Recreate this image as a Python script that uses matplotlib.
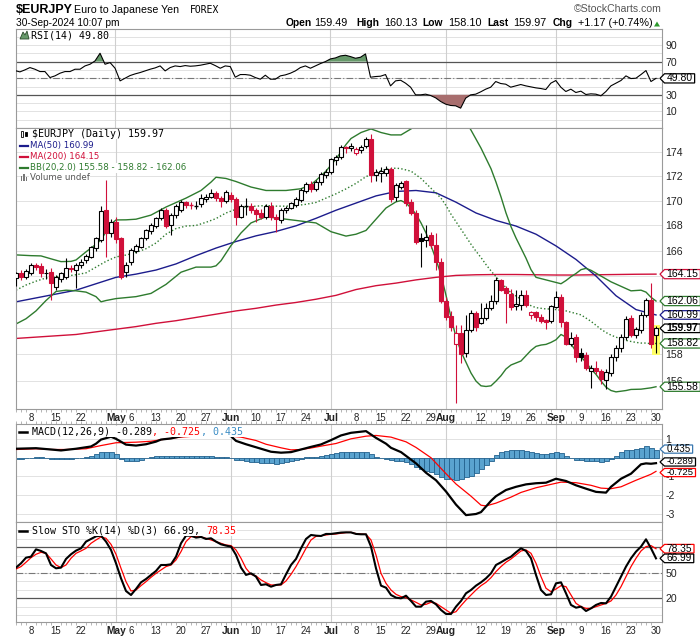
import numpy as np
import pandas as pd
import matplotlib
matplotlib.use("Agg")
import matplotlib.pyplot as plt
from matplotlib.patches import Polygon, Rectangle
from matplotlib.lines import Line2D
from matplotlib.transforms import IdentityTransform
from matplotlib.ticker import NullLocator, NullFormatter

plt.rcParams["font.family"] = ["Liberation Sans", "DejaVu Sans"]

# ---------------- data ----------------
dates = pd.bdate_range("2024-04-03", "2024-09-30")
x = np.arange(len(dates)) - 3          # trading days counted from 2024-04-08

opens = [163.85, 164.26, 163.95, 164.20, 164.87, 164.80, 164.20, 164.34, 163.12, 163.74,
         163.95, 164.66, 164.47, 164.87, 165.26, 165.53, 166.19, 166.85, 169.27, 167.39,
         168.30, 166.99, 164.34, 165.13, 166.00, 166.32, 166.99, 167.52, 167.92, 168.57,
         169.22, 168.05, 168.83, 169.27, 169.87, 169.61, 169.60, 169.69, 170.14, 170.33,
         170.60, 170.22, 170.00, 170.49, 170.14, 168.70, 169.53, 169.53, 169.22, 169.00,
         168.70, 169.53, 168.70, 168.44, 169.22, 169.43, 169.61, 170.05, 170.77, 171.32,
         170.96, 171.50, 172.11, 172.33, 173.30, 173.53, 174.42, 174.28, 173.86, 174.14,
         174.47, 175.03, 172.05, 172.25, 172.25, 172.60, 170.27, 171.10, 171.57, 169.92,
         168.99, 167.00, 166.80, 167.25, 166.45, 165.13, 162.05, 160.94, 158.76, 159.59,
         158.08, 159.85, 161.11, 160.41, 160.73, 161.49, 162.10, 163.69, 163.09, 162.60,
         161.67, 161.75, 162.52, 160.99, 161.24, 160.86, 160.61, 160.53, 161.62, 162.39,
         160.48, 158.78, 159.29, 158.10, 157.95, 156.73, 156.98, 156.73, 156.07, 156.60,
         157.83, 158.50, 159.34, 160.73, 159.47, 159.85, 161.00, 162.13, 159.49]
highs = [164.35, 164.45, 164.55, 165.05, 165.00, 165.00, 164.55, 164.60, 164.10, 164.35,
         165.40, 164.90, 165.00, 165.30, 165.75, 166.40, 167.10, 169.60, 171.70, 168.50,
         168.70, 167.10, 165.10, 166.20, 166.50, 167.10, 167.70, 168.20, 168.70, 169.40,
         169.40, 169.00, 169.70, 170.05, 170.00, 169.90, 169.95, 170.50, 170.50, 170.90,
         170.75, 170.40, 170.85, 170.70, 170.30, 169.70, 170.20, 169.80, 169.40, 169.30,
         169.75, 169.90, 168.90, 169.40, 169.60, 169.90, 170.30, 171.00, 171.50, 171.60,
         171.70, 172.30, 172.60, 173.50, 173.70, 174.60, 174.50, 174.70, 174.40, 174.60,
         175.20, 175.45, 172.60, 172.70, 172.80, 172.75, 171.40, 171.60, 171.70, 170.10,
         169.20, 167.40, 168.00, 167.50, 167.40, 165.40, 162.40, 161.30, 160.23, 160.20,
         161.00, 161.40, 161.30, 161.90, 161.90, 162.50, 163.90, 163.80, 163.20, 163.00,
         162.90, 162.90, 162.90, 161.30, 161.30, 161.10, 160.70, 161.75, 162.80, 162.60,
         160.50, 159.70, 159.50, 158.50, 158.20, 157.20, 157.50, 156.90, 156.90, 158.00,
         158.70, 159.50, 160.90, 161.00, 160.10, 161.20, 162.30, 163.48, 160.13]
lows = [163.20, 163.70, 163.75, 164.08, 164.50, 163.90, 163.75, 162.13, 162.90, 163.50,
        163.80, 164.30, 163.04, 164.60, 165.00, 165.40, 166.00, 166.70, 165.50, 167.10,
        166.60, 163.80, 163.90, 164.90, 165.80, 166.20, 166.80, 167.30, 167.80, 168.40,
        167.80, 167.20, 168.60, 169.10, 169.40, 169.30, 169.30, 169.50, 169.90, 170.20,
        170.00, 169.50, 169.80, 169.90, 168.00, 168.60, 168.80, 169.00, 168.30, 168.50,
        168.50, 168.40, 167.50, 168.20, 169.00, 169.30, 169.50, 169.90, 170.60, 170.70,
        170.80, 171.30, 171.80, 172.20, 172.90, 173.40, 173.90, 174.10, 173.70, 173.90,
        174.30, 171.50, 171.60, 171.50, 172.00, 169.90, 170.00, 170.90, 169.60, 168.80,
        166.50, 164.74, 166.30, 166.20, 164.50, 161.90, 160.60, 159.80, 154.37, 157.33,
        157.80, 159.70, 159.80, 160.30, 160.60, 161.40, 161.87, 162.80, 160.35, 161.40,
        161.40, 161.40, 161.60, 160.70, 160.50, 160.40, 159.90, 160.40, 161.50, 160.10,
        158.70, 158.60, 157.45, 157.50, 156.80, 155.50, 156.50, 155.80, 155.40, 156.40,
        157.50, 158.20, 159.10, 159.30, 159.20, 159.60, 160.80, 158.50, 158.10]
closes = [164.20, 163.90, 164.42, 164.87, 164.74, 164.20, 164.26, 163.48, 163.95, 164.21,
          164.60, 164.55, 164.87, 165.13, 165.58, 166.26, 166.99, 169.17, 167.39, 168.24,
          166.90, 163.95, 164.87, 166.05, 166.37, 166.99, 167.60, 168.05, 168.57, 169.22,
          167.92, 168.83, 169.53, 169.87, 169.61, 169.60, 169.62, 170.22, 170.33, 170.60,
          170.22, 169.95, 170.68, 170.14, 168.70, 169.53, 169.55, 169.27, 168.90, 168.70,
          169.53, 168.65, 168.55, 169.27, 169.43, 169.79, 170.14, 170.82, 171.32, 170.96,
          171.50, 172.19, 172.33, 173.36, 173.58, 174.42, 174.28, 174.47, 174.19, 174.42,
          175.03, 172.05, 172.33, 172.45, 172.60, 170.14, 171.23, 171.45, 169.79, 168.99,
          166.72, 166.75, 167.07, 166.45, 165.13, 162.05, 160.86, 160.05, 159.59, 158.03,
          159.85, 161.11, 160.10, 160.73, 161.49, 162.08, 163.69, 162.91, 162.65, 161.62,
          161.87, 162.52, 161.75, 161.24, 160.81, 160.56, 160.48, 161.67, 162.34, 160.48,
          158.78, 159.22, 157.78, 157.80, 156.98, 156.98, 156.73, 156.12, 156.68, 157.83,
          158.50, 159.34, 160.66, 159.47, 159.90, 161.00, 162.13, 158.80, 159.97]

ma50_at = [-3, 1, 5, 9, 13, 17, 21, 25, 29, 33, 37, 41, 45, 49, 53, 57, 61, 65, 69, 73, 77,
           81, 85, 89, 93, 97, 101, 105, 109, 113, 117, 121, 125]
ma50_val = [162.0, 162.3, 162.6, 162.9, 163.4, 163.9, 164.15, 164.47, 164.95, 165.6, 166.2,
            166.72, 167.17, 167.52, 167.97, 168.57, 169.22, 169.8, 170.38, 170.74, 170.82,
            170.63, 169.87, 169.0, 168.4, 167.95, 167.3, 166.37, 165.3, 164.0, 162.47, 161.4, 160.99]
ma200_at = ma50_at
ma200_val = [159.2, 159.3, 159.4, 159.5, 159.7, 159.9, 160.1, 160.35, 160.55, 160.8, 161.05,
             161.3, 161.5, 161.75, 161.95, 162.2, 162.5, 162.95, 163.25, 163.45, 163.7,
             163.9, 164.05, 164.1, 164.12, 164.12, 164.1, 164.08, 164.08, 164.1, 164.12, 164.14, 164.15]

bbm_at = list(range(-3, 74, 2)) + list(range(74, 126))
bbm_val = [162.9, 163.3, 163.6, 163.85, 163.95, 164.0, 164.1, 164.25, 164.7, 165.15,
           165.5, 165.65, 165.85, 166.15, 166.6, 167.3, 167.75, 167.95, 168.0, 168.25,
           168.55, 169.0, 169.3, 169.5, 169.55, 169.6, 169.55, 169.55, 169.6, 169.7,
           169.85, 170.2, 170.55, 170.95, 171.4, 171.95, 172.3, 172.55, 172.65,
           172.6, 172.5, 172.4, 172.1, 171.8, 171.4, 171.0, 170.6, 170.2, 169.6,
           168.9, 168.3, 167.7, 167.1, 166.5, 165.95, 165.45, 164.9, 164.4, 163.95,
           163.5, 163.1, 162.7, 162.45, 162.2, 161.9, 161.7, 161.55, 161.5, 161.45,
           161.45, 161.4, 161.35, 161.3, 161.2, 161.1, 161.0, 160.75, 160.5, 160.2,
           159.9, 159.65, 159.45, 159.3, 159.15, 159.05, 158.97, 158.9, 158.85, 158.85,
           158.8, 158.82]
bbu_at = [-3, 0, 2, 4, 6, 8, 9, 11, 13, 14, 15, 16, 17, 19, 21, 24, 27, 31, 34, 36, 37, 39,
          41, 44, 47, 51, 54, 56, 57, 59, 61, 63, 64, 66, 68, 70, 72, 74, 76, 78, 80, 82, 84,
          86, 88, 90, 92, 93, 94, 95, 96, 97, 98, 99, 100, 101, 103, 105, 106, 107, 108, 109,
          110, 111, 112, 114, 116, 118, 120, 122, 123, 124, 125]
bbu_val = [165.66, 165.6, 165.58, 165.35, 165.13, 165.15, 165.26, 165.9, 166.5, 166.85,
           167.5, 168.1, 168.44, 168.45, 168.5, 168.83, 169.48, 170.2, 170.82, 171.5,
           171.9, 171.8, 171.55, 171.1, 170.82, 170.82, 170.96, 171.3, 171.64, 172.4,
           173.4, 174.6, 175.1, 175.6, 175.9, 175.6, 175.4, 175.4, 175.9, 176.6,
           177.3, 177.8, 178.0, 177.2, 175.8, 174.3, 172.6, 171.5, 170.3, 169.0,
           167.9, 167.0, 166.2, 165.4, 164.5, 163.9, 163.7, 163.5, 163.4, 163.65,
           163.95, 164.2, 164.5, 164.6, 164.45, 164.0, 163.55, 163.2, 162.85, 162.9,
           162.75, 162.35, 162.06]
bbl_at = [-3, -1, 1, 3, 5, 7, 9, 11, 13, 14, 15, 17, 21, 24, 27, 30, 33, 36, 37, 38, 40, 42,
          44, 47, 50, 54, 57, 60, 63, 65, 67, 69, 71, 73, 74, 75, 76, 77, 78, 79, 80, 81, 82,
          83, 84, 85, 86, 87, 88, 89, 90, 91, 92, 93, 94, 95, 96, 97, 98, 99, 100, 101, 102,
          103, 104, 105, 106, 107, 108, 109, 110, 111, 112, 113, 114, 115, 116, 117, 118,
          119, 120, 122, 124, 125]
bbl_val = [160.3, 160.7, 161.3, 162.1, 162.8, 162.9, 162.85, 162.75, 162.4, 162.0,
           162.1, 162.25, 162.4, 162.65, 163.35, 164.3, 164.7, 164.7, 164.8, 165.2,
           166.4, 167.4, 168.2, 168.7, 168.55, 168.35, 168.2, 167.5, 167.15, 167.3,
           167.6, 168.5, 169.4, 169.9, 170.0, 169.8, 169.4, 168.9, 168.2, 167.4,
           166.4, 165.3, 164.1, 162.5, 160.8, 159.3, 158.2, 157.4, 156.6, 156.0,
           155.65, 155.6, 155.65, 156.0, 156.4, 156.9, 157.2, 157.35, 157.5, 157.9,
           158.3, 158.6, 158.7, 158.75, 158.9, 159.1, 159.5, 159.3, 158.8, 158.2,
           157.8, 157.4, 156.9, 156.5, 156.0, 155.55, 155.3, 155.2, 155.25, 155.3,
           155.38, 155.4, 155.5, 155.58]

rsi = [59.2, 57.6, 60.0, 62.8, 60.8, 58.0, 58.0, 50.8, 52.8, 56.0,
       58.0, 58.0, 60.8, 60.8, 64.8, 66.8, 70.8, 80.0, 66.8, 68.8,
       62.0, 46.8, 50.0, 53.2, 55.2, 56.8, 58.8, 60.8, 62.4, 64.8,
       58.8, 62.8, 64.8, 64.0, 65.2, 64.4, 64.8, 65.6, 66.8, 68.0,
       65.2, 62.0, 64.8, 64.0, 51.2, 54.4, 54.4, 53.6, 50.8, 48.8,
       53.6, 48.8, 48.8, 52.8, 54.0, 56.0, 58.8, 62.8, 64.8, 62.0,
       64.8, 67.6, 70.0, 73.2, 74.4, 76.8, 77.6, 76.0, 74.0, 75.2,
       79.2, 51.2, 52.0, 52.4, 54.4, 40.8, 46.8, 47.6, 44.0, 39.2,
       30.0, 30.0, 30.8, 29.2, 26.4, 22.0, 18.8, 17.2, 16.8, 14.0,
       26.0, 30.0, 30.8, 33.6, 36.8, 39.2, 46.0, 43.6, 42.8, 39.2,
       40.8, 42.4, 40.8, 39.6, 38.4, 37.6, 36.4, 44.0, 47.2, 39.2,
       34.0, 36.8, 32.8, 34.4, 30.4, 31.2, 30.8, 28.8, 34.0, 40.8,
       44.0, 47.2, 52.8, 49.6, 50.0, 54.4, 59.2, 46.0, 49.8]

macd_at = [-3, 1, 4, 6, 9, 12, 13, 14, 16, 17, 19, 21, 23, 25, 26, 27, 28, 30, 33, 36, 38,
           40, 41, 43, 46, 48, 50, 52, 54, 56, 58, 60, 62, 64, 67, 69, 71, 72, 74, 75, 77,
           79, 81, 83, 85, 87, 89, 90, 92, 93, 95, 97, 99, 101, 103, 105, 107, 109, 111,
           113, 115, 116, 118, 120, 122, 123, 124, 125]
macd_val = [0.48, 0.51, 0.44, 0.39, 0.48, 0.6, 0.75, 0.97, 1.12, 1.01, 0.7, 0.65, 0.72,
            0.86, 0.97, 1.0, 1.03, 1.15, 1.25, 1.28, 1.25, 1.15, 0.9, 0.72, 0.48, 0.32,
            0.27, 0.3, 0.44, 0.58, 0.71, 0.94, 1.19, 1.33, 1.42, 1.06, 0.75, 0.53, 0.3,
            0.1, -0.3, -0.8, -1.2, -1.8, -2.5, -3.06, -3.0, -2.9, -2.3, -2.05, -1.72,
            -1.55, -1.42, -1.36, -1.33, -1.12, -1.24, -1.47, -1.65, -1.82, -1.86, -1.55,
            -1.12, -0.85, -0.35, -0.3, -0.32, -0.289]
signal_at = [-3, 1, 4, 7, 11, 14, 17, 21, 24, 27, 30, 34, 37, 40, 42, 45, 47, 50, 52, 54,
             56, 58, 61, 64, 67, 69, 72, 75, 77, 80, 83, 85, 88, 90, 91, 93, 96, 98, 101,
             104, 106, 109, 112, 114, 116, 118, 121, 124, 125]
signal_val = [0.44, 0.48, 0.44, 0.44, 0.48, 0.65, 0.8, 0.83, 0.88, 1.0, 1.1, 1.18, 1.2,
              1.15, 1.1, 0.92, 0.72, 0.53, 0.42, 0.44, 0.52, 0.62, 0.76, 1.01, 1.15, 1.19,
              1.1, 0.85, 0.55, 0.0, -0.85, -1.4, -2.05, -2.53, -2.57, -2.42, -2.1, -1.85,
              -1.6, -1.42, -1.3, -1.33, -1.47, -1.62, -1.65, -1.55, -1.2, -0.88, -0.725]
hist = [-0.05, -0.05, -0.04, -0.03, 0.02, 0.02, 0.0, -0.06, -0.08, -0.08,
        -0.07, -0.06, -0.04, 0.0, 0.04, 0.1, 0.18, 0.28, 0.32, 0.32,
        0.22, -0.08, -0.16, -0.17, -0.15, -0.1, -0.03, 0.03, 0.07, 0.1,
        0.09, 0.08, 0.1, 0.11, 0.1, 0.08, 0.07, 0.08, 0.08, 0.08,
        0.06, 0.03, 0.02, -0.02, -0.1, -0.14, -0.18, -0.21, -0.25, -0.27,
        -0.27, -0.3, -0.32, -0.3, -0.25, -0.19, -0.13, -0.05, 0.02, 0.04,
        0.06, 0.1, 0.14, 0.19, 0.24, 0.28, 0.29, 0.3, 0.32, 0.33,
        0.3, 0.18, 0.05, -0.02, -0.05, -0.12, -0.15, -0.18, -0.25, -0.35,
        -0.5, -0.6, -0.7, -0.78, -0.88, -1.02, -1.12, -1.16, -1.18, -1.16,
        -1.05, -0.95, -0.82, -0.62, -0.4, -0.15, 0.12, 0.28, 0.36, 0.4,
        0.4, 0.4, 0.38, 0.32, 0.26, 0.2, 0.22, 0.27, 0.31, 0.24,
        0.1, 0.0, -0.1, -0.14, -0.18, -0.2, -0.2, -0.21, -0.15, -0.05,
        0.1, 0.28, 0.4, 0.42, 0.45, 0.52, 0.6, 0.5, 0.435]

sto_k = [56.1, 61.2, 67.8, 69.0, 77.6, 75.7, 72.9, 59.2, 55.3, 56.1,
         66.3, 71.8, 76.1, 78.8, 86.7, 89.8, 92.9, 93.7, 86.7, 76.9,
         61.2, 43.5, 28.6, 23.9, 31.0, 38.8, 42.7, 47.5, 52.2, 59.2,
         59.2, 60.0, 69.0, 84.7, 93.7, 93.7, 91.4, 92.2, 89.8, 90.6,
         86.7, 83.5, 82.0, 80.8, 71.0, 56.1, 47.5, 49.4, 45.5, 35.7,
         36.5, 33.7, 35.7, 36.5, 48.2, 59.2, 66.3, 78.8, 89.8, 94.5,
         93.7, 93.3, 95.7, 95.7, 96.5, 97.3, 97.6, 97.5, 95.7, 95.3,
         95.3, 80.8, 55.3, 34.9, 32.5, 23.9, 20.8, 20.0, 23.1, 16.9,
         10.2, 10.2, 16.1, 16.9, 12.9, 6.3, 1.6, 1.6, 10.2, 16.9,
         25.9, 29.8, 34.9, 38.8, 43.5, 49.4, 59.2, 62.4, 65.9, 69.0,
         74.1, 78.8, 75.7, 67.1, 47.5, 29.8, 23.9, 24.7, 37.6, 38.8,
         25.9, 12.2, 9.0, 10.2, 5.1, 8.2, 12.2, 14.5, 14.1, 22.0,
         33.7, 45.5, 57.3, 67.1, 74.9, 80.8, 89.4, 78.8, 66.99]
sto_d = [54.5, 57.3, 62.4, 67.8, 71.8, 74.1, 72.9, 66.3, 59.2, 56.1,
         59.2, 67.1, 72.9, 75.7, 78.8, 84.7, 88.6, 92.2, 90.6, 83.5,
         71.8, 55.3, 39.6, 28.6, 29.8, 34.9, 39.6, 44.7, 49.4, 53.3,
         57.3, 59.2, 65.1, 74.9, 86.7, 92.5, 92.5, 92.2, 90.6, 88.6,
         86.7, 84.7, 82.7, 82.0, 76.9, 67.1, 55.3, 48.2, 46.3, 41.6,
         38.4, 35.7, 35.7, 35.7, 40.4, 48.2, 57.3, 67.8, 78.8, 88.6,
         92.9, 93.7, 94.5, 95.3, 95.7, 96.5, 97.3, 97.6, 96.1, 95.7,
         95.3, 88.6, 71.0, 49.4, 37.6, 29.8, 24.7, 22.0, 20.8, 18.0,
         15.3, 12.2, 12.9, 15.3, 14.1, 10.2, 6.3, 2.4, 4.3, 11.4,
         18.0, 23.9, 29.8, 34.9, 38.8, 44.3, 51.4, 57.3, 62.4, 66.3,
         71.0, 75.7, 76.9, 72.9, 61.2, 45.5, 31.8, 27.8, 31.0, 34.9,
         33.7, 23.9, 14.1, 10.2, 8.2, 8.2, 10.2, 12.2, 14.1, 16.9,
         23.9, 33.7, 45.5, 57.3, 67.1, 75.7, 80.8, 82.0, 78.35]

tick_at = [0, 5, 10, 17, 20, 25, 30, 35, 40, 45, 50, 55, 60, 65, 70, 75, 80, 83, 90, 95,
           100, 105, 110, 115, 120, 125]
tick_lab = ["8", "15", "22", "May", "6", "13", "20", "27", "Jun", "10", "17", "24", "Jul",
            "8", "15", "22", "29", "Aug", "12", "19", "26", "Sep", "9", "16", "23", "30"]
month_lab = ["May", "Jun", "Jul", "Aug", "Sep"]
month_at = [17, 40, 60, 83, 105]

# ---------------- figure ----------------
W, H = 700, 639
fig = plt.figure(figsize=(W / 100, H / 100), dpi=100)
fig.patch.set_facecolor("white")
XL, XR = 16, 662
XLIM = (-2.78, 126.2)
RED = "#d0103a"
GREEN = "#2e7b2e"
NAVY = "#1c1c8c"
SPINE = "#9a9a9a"
GRID = "#e2e2e2"


def make_ax(top, bottom):
    ax = fig.add_axes([XL / W, 1 - bottom / H, (XR - XL) / W, (bottom - top) / H])
    ax.set_xlim(*XLIM)
    for s in ax.spines.values():
        s.set_color(SPINE)
        s.set_linewidth(0.8)
    for m in month_at:
        ax.axvline(m, color="#cfcfcf", lw=0.8, zorder=0.6)
    ax.yaxis.tick_right()
    ax.tick_params(axis="y", length=0, pad=2.5, labelsize=7.6, colors="#222222")
    ax.tick_params(axis="x", which="both", bottom=False, top=False, labelbottom=False)
    return ax


ax_r = make_ax(28.5, 127.5)
ax_p = make_ax(127.5, 409)
ax_m = make_ax(424.3, 522.3)
ax_s = make_ax(522.3, 622.3)

# ---- RSI ----
ax_r.set_ylim(-9.3, 109.8)
for v in range(0, 101, 10):
    ax_r.axhline(v, color=GRID, lw=0.7, zorder=0.5)
ax_r.axhline(70, color="#555555", lw=0.9, zorder=1)
ax_r.axhline(30, color="#555555", lw=0.9, zorder=1)
ax_r.axhline(50, color="#777777", lw=0.8, ls=(0, (6, 2, 1, 2)), zorder=1)
rsi_a = np.array(rsi)
ax_r.fill_between(x, rsi_a, 70, where=rsi_a >= 70, interpolate=True, color="#66996a", zorder=2, lw=0)
ax_r.fill_between(x, rsi_a, 30, where=rsi_a <= 30, interpolate=True, color="#a86e6e", zorder=2, lw=0)
ax_r.plot(x, rsi_a, color="black", lw=0.8, zorder=3)
ax_r.set_yticks([10, 30, 70, 90])
ax_r.set_yticklabels(["10", "30", "70", "90"])

# ---- Price ----
ax_p.set_yscale("log")
ax_p.set_ylim(153.94, 176.02)
ax_p.yaxis.set_minor_locator(NullLocator())
ax_p.yaxis.set_minor_formatter(NullFormatter())
for v in range(156, 177, 2):
    ax_p.axhline(v, color=GRID, lw=0.7, zorder=0.5)
ax_p.set_yticks([156, 158, 166, 168, 170, 172, 174])
ax_p.set_yticklabels(["156", "158", "166", "168", "170", "172", "174"])

# highlight of last bar
ax_p.add_patch(Rectangle((x[-1] - 0.75, lows[-1] - 0.12), 1.5, highs[-1] - lows[-1] + 0.2,
                         facecolor="#ffff66", edgecolor="none", zorder=1))

ax_p.plot(ma200_at, ma200_val, color=RED, lw=1.0, zorder=2)
ax_p.plot(ma50_at, ma50_val, color=NAVY, lw=1.0, zorder=2)
ax_p.plot(bbu_at, bbu_val, color=GREEN, lw=1.0, zorder=2)
ax_p.plot(bbl_at, bbl_val, color=GREEN, lw=1.0, zorder=2)
ax_p.plot(bbm_at, bbm_val, color=GREEN, lw=1.0, ls=(0, (1, 1.6)), zorder=2)

prev = [opens[0]] + closes[:-1]
for xi, o, h, l, c, p in zip(x, opens, highs, lows, closes, prev):
    col = "black" if c >= p else RED
    ax_p.vlines(xi, l, h, color=col, lw=0.8, zorder=4)
    lo, hi = min(o, c), max(o, c)
    if hi - lo < 0.05:
        ax_p.hlines(o, xi - 0.38, xi + 0.38, color=col, lw=1.0, zorder=5)
    else:
        face = col if c < o else "white"
        ax_p.add_patch(Rectangle((xi - 0.38, lo), 0.76, hi - lo, facecolor=face,
                                 edgecolor=col, lw=0.8, zorder=5))

ax_p.set_xticks(tick_at)
ax_p.set_xticklabels(tick_lab)
ax_p.set_xticks(x, minor=True)
ax_p.tick_params(axis="x", which="major", bottom=True, labelbottom=True, length=0,
                 pad=2.6, labelsize=6.9, colors="#222222")
ax_p.tick_params(axis="x", which="minor", bottom=True, length=2, width=0.6,
                 color="#aaaaaa", direction="out")

# ---- MACD ----
ax_m.set_ylim(-3.443, 1.784)
for v in [1, 0, -1, -2, -3]:
    ax_m.axhline(v, color=GRID, lw=0.7, zorder=0.5)
ax_m.bar(x, hist, width=1.0, color="#5aa3cf", edgecolor="#23628e", linewidth=0.6, zorder=2)
ax_m.plot(signal_at, signal_val, color="red", lw=0.9, zorder=3)
ax_m.plot(macd_at, macd_val, color="black", lw=1.6, zorder=4)
ax_m.set_yticks([1, -1, -2, -3])
ax_m.set_yticklabels(["1", "-1", "-2", "-3"])
ax_m.set_xticks(x, minor=True)
ax_m.tick_params(axis="x", which="minor", top=True, length=2, width=0.6,
                 color="#aaaaaa", direction="out")

# ---- Slow STO ----
ax_s.set_ylim(-8.2, 109.4)
for v in range(0, 101, 10):
    ax_s.axhline(v, color=GRID, lw=0.7, zorder=0.5)
ax_s.axhline(80, color="#555555", lw=0.9, zorder=1)
ax_s.axhline(20, color="#555555", lw=0.9, zorder=1)
ax_s.axhline(50, color="#777777", lw=0.8, ls=(0, (6, 2, 1, 2)), zorder=1)
ax_s.plot(x, sto_d, color="red", lw=0.9, zorder=3)
ax_s.plot(x, sto_k, color="black", lw=1.5, zorder=4)
ax_s.set_yticks([20, 50])
ax_s.set_yticklabels(["20", "50"])
ax_s.set_xticks(tick_at)
ax_s.set_xticklabels(tick_lab)
ax_s.set_xticks(x, minor=True)
ax_s.tick_params(axis="x", which="major", bottom=True, labelbottom=True, length=0,
                 pad=2.4, labelsize=6.9, colors="#222222")
ax_s.tick_params(axis="x", which="minor", bottom=True, length=2, width=0.6,
                 color="#aaaaaa", direction="out")

for ax in (ax_p, ax_s):
    for t in ax.get_xticklabels():
        if t.get_text() in month_lab:
            t.set_fontweight("bold")
            t.set_fontsize(7.4)

# ---------------- pixel helpers ----------------
ID = IdentityTransform()


def ftext(px, py, s, **kw):
    kw.setdefault("va", "center")
    kw.setdefault("ha", "left")
    return fig.text(px / W, 1 - py / H, s, **kw)


def pline(x0, x1, py, color, lw=1.5):
    fig.add_artist(Line2D([x0, x1], [H - py, H - py], color=color, lw=lw, transform=ID, zorder=12))


MONO = "DejaVu Sans Mono"
WB = dict(facecolor="white", edgecolor="none", pad=0.3)

# header
ftext(16, 10, "$EURJPY", fontsize=9, fontweight="bold")
ftext(74, 10, "Euro to Japanese Yen", fontsize=7.7)
ftext(190, 10, "FOREX", fontsize=7.0, family=MONO)
ftext(16, 23.5, "30-Sep-2024 10:07 pm", fontsize=7.3)
ftext(662, 9.5, "\u00a9StockCharts.com", fontsize=7.6, ha="right", color="#555555")
info = [(286, "Open", True), (314, "159.49", False), (356, "High", True), (384, "160.13", False),
        (422, "Low", True), (448, "158.10", False), (487, "Last", True), (513, "159.97", False),
        (553, "Chg", True), (578, "+1.17 (+0.74%)", False)]
for px, s, b in info:
    ftext(px, 23.5, s, fontsize=7.8 if not b else 7.4, fontweight="bold" if b else "normal")
fig.add_artist(Polygon([(654, H - 26.5), (660, H - 26.5), (657, H - 21.5)], closed=True,
                       fc="#2e9a2e", ec="none", transform=ID, zorder=12))

# RSI legend
fig.add_artist(Polygon([(20, H - 39), (23, H - 32), (25, H - 35), (27, H - 31), (29, H - 39)],
                       closed=True, fc="#66996a", ec="#2a4a2a", lw=0.6, transform=ID, zorder=12))
ftext(31, 35, "RSI(14) 49.80", fontsize=7.2, family=MONO, bbox=WB, zorder=11)

# price legend
fig.add_artist(Rectangle((20.5, H - 137), 2.5, 6, fc="white", ec="black", lw=0.6, transform=ID, zorder=12))
fig.add_artist(Rectangle((24.5, H - 136), 2.5, 4, fc="black", ec="black", lw=0.6, transform=ID, zorder=12))
pline(21.75, 21.75, 129.5, "black", 0.6)
ftext(31.5, 134, "$EURJPY (Daily) 159.97", fontsize=7.2, family=MONO, bbox=WB, zorder=11)
pline(20, 28, 145.5, NAVY, 1.6)
ftext(29.5, 145.5, "MA(50) 160.99", fontsize=6.2, family="DejaVu Sans", color=NAVY, bbox=WB, zorder=11)
pline(20, 28, 156.7, RED, 1.6)
ftext(29.5, 156.7, "MA(200) 164.15", fontsize=6.2, family="DejaVu Sans", color=RED, bbox=WB, zorder=11)
pline(20, 28, 167.7, GREEN, 1.6)
ftext(29.5, 167.7, "BB(20,2.0) 155.58 - 158.82 - 162.06", fontsize=6.2, family="DejaVu Sans",
      color=GREEN, bbox=WB, zorder=11)
for bx, bh in [(20.5, 5), (23, 7), (25.5, 4)]:
    fig.add_artist(Rectangle((bx, H - 181), 1.8, bh, fc="#777777", ec="none", transform=ID, zorder=12))
ftext(29.5, 177.7, "Volume undef", fontsize=6.2, family="DejaVu Sans", color="#555555", bbox=WB, zorder=11)

# MACD legend
CW = 7.2 * 0.602 * 100 / 72
pline(19, 27, 431.7, "black", 1.8)
ftext(32, 431.7, "MACD(12,26,9) -0.289", fontsize=7.2, family=MONO, bbox=WB, zorder=11)
ftext(32 + 20 * CW, 431.7, ", -0.725", fontsize=7.2, family=MONO, color="red", bbox=WB, zorder=11)
ftext(32 + 28 * CW, 431.7, ", 0.435", fontsize=7.2, family=MONO, color="#3a8cc4", bbox=WB, zorder=11)

# STO legend
pline(19, 27, 530.7, "black", 1.8)
ftext(32, 530.7, "Slow STO %K(14) %D(3) 66.99, ", fontsize=7.2, family=MONO,
      bbox=dict(facecolor="white", edgecolor="none", pad=0.1), zorder=11)
ftext(32 + 29 * CW, 530.7, "78.35", fontsize=7.2, family=MONO, color="red",
      bbox=dict(facecolor="white", edgecolor="none", pad=0.1), zorder=11)

# value tags
renderer = fig.canvas.get_renderer()


def tag(ax, val, label, ec, bold=False, fs=7.5, h=4.6, dy=0.0):
    y = ax.transData.transform((0, val))[1] + dy
    xr = ax.transAxes.transform((1, 0))[0]
    t = fig.text((xr + 4.5) / W, y / H, label, fontsize=fs, va="center", ha="left",
                 fontweight="bold" if bold else "normal", color="black", zorder=14)
    bb = t.get_window_extent(renderer)
    xe = bb.x1 + 2
    verts = [(xr - 2, y), (xr + 2.5, y + h), (xe, y + h), (xe, y - h), (xr + 2.5, y - h)]
    fig.add_artist(Polygon(verts, closed=True, fc="white", ec=ec, lw=0.9, transform=ID, zorder=13))


tag(ax_r, 49.80, "49.80", "black")
tag(ax_p, 164.15, "164.15", RED)
tag(ax_p, 162.06, "162.06", GREEN)
tag(ax_p, 160.99, "160.99", NAVY, h=4.3)
tag(ax_p, 159.97, "159.97", "black", bold=True, h=4.3)
tag(ax_p, 158.82, "158.82", GREEN)
tag(ax_p, 155.58, "155.58", GREEN)
tag(ax_m, 0.435, "0.435", "#3a78b0", fs=7.0, h=4.1, dy=0.5)
tag(ax_m, -0.289, "-0.289", "black", fs=6.8, h=4.1, dy=1.2)
tag(ax_m, -0.725, "-0.725", "red", fs=6.8, h=4.1, dy=-1.2)
tag(ax_s, 78.35, "78.35", "red", fs=7.3, h=4.3)
tag(ax_s, 66.99, "66.99", "black", fs=7.3, h=4.3)

fig.savefig("out.png", dpi=100, facecolor="white")
